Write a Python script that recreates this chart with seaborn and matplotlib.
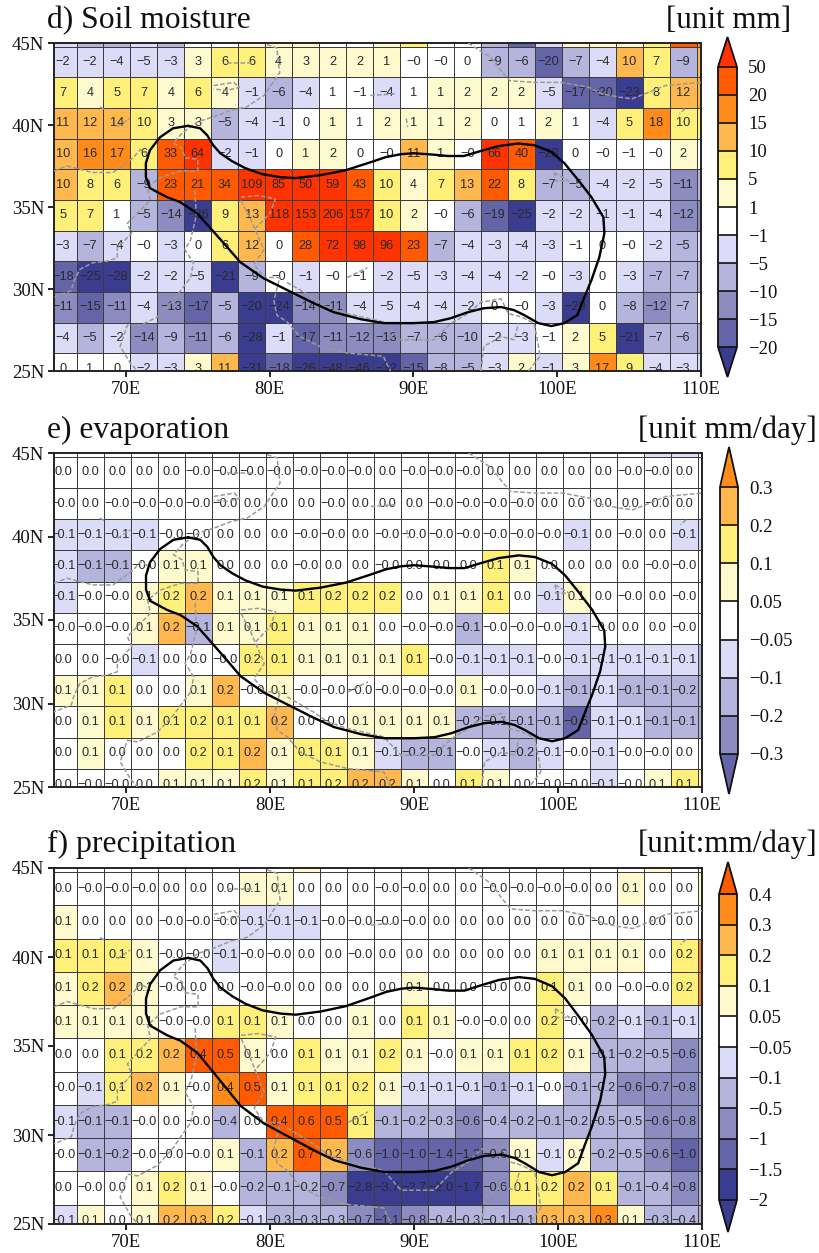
import numpy as np
import matplotlib
matplotlib.use("Agg")
import matplotlib.pyplot as plt
from matplotlib.cm import ScalarMappable
from matplotlib.colors import ListedColormap, BoundaryNorm
import seaborn as sns

# ---------- colours ----------
NAVY, P4, P3, P2, P1 = "#3A3C90", "#6464A8", "#8C8CC0", "#B4B4DC", "#DCDCF8"
WHITE, CREAM, YEL, LORG, ORG, DEEP, RED = "#FFFFFF", "#FFFACD", "#FFF07A", "#FFB84D", "#FF8C1A", "#FF5A00", "#FF3300"

# ---------- panel d: soil moisture ----------
d_levels = [-20, -15, -10, -5, -1, 1, 5, 10, 15, 20, 50]
d_colors = [NAVY, P4, P3, P2, P1, WHITE, CREAM, YEL, LORG, ORG, DEEP, RED]
d_values = [
    [-2, -2, -4, -4.6, -3, 3, 6, 6, 4, 3, 2, 2, 1.2, -0.3, -0.3, 0.3, -9, -6, -19.6, -7, -4, 10.3, 7, -9],
    [7, 4, 5.2, 7, 4, 6, 4, -1.2, -6, -4, 0.8, -0.8, -4, 0.8, 1.2, 2, 2, 2, -4.7, -17, -19.7, -23, 8, 12],
    [11, 12, 14, 9.8, 3, 3, -5.2, -4, -1.2, 0.3, 1.2, 0.8, 2, 1.2, 1.2, 2, 0.3, 0.8, 2, 0.8, -4, 5.2, 18, 9.8],
    [10.2, 16, 17, 6, 33, 64, -2, -1.2, 0.3, 1.2, 2, 0.3, -0.3, 11, 1.2, -0.3, 66, 40, -28, 0.3, -0.3, -0.8, -0.3, 2],
    [10.2, 8, 6, -9, 23, 21, 34, 109, 85, 50.3, 59, 43, 9.8, 4, 7, 13, 22, 8, -7, -5.2, -4, -2, -4.8, -11],
    [5.2, 7, 0.8, -5.3, -14, -36, 9, 13, 118, 153, 206, 157, 9.8, 2, -0.3, -6, -19, -25, -2, -2, -1.2, -1.2, -4, -12],
    [-3, -7, -4, -0.3, -3, 0.3, 6, 12, 0.3, 28, 72, 98, 96, 23, -7, -4, -3, -4, -3, -0.8, 0.3, -0.3, -2, -5.2],
    [-18, -25, -28, -2, -2, -4.8, -21, -9, -0.3, -1.2, -0.3, -0.8, -2, -4.8, -3, -4, -4, -2, -0.3, -3, 0.3, -3, -7, -7],
    [-11, -15.2, -11, -4, -13, -17, -5.2, -20.3, -24, -14, -11, -4, -4.8, -4, -4, -2, 0.3, -0.3, -3, -29, 0.3, -8, -12, -7],
    [-4, -5.2, -2, -14, -9, -11, -6, -28, -1.2, -17, -11, -12, -13, -7, -6, -9.8, -2, -3, -0.8, 2, 5.2, -21, -7, -6],
    [0.3, 0.8, 0.3, -2, -3, 3, 11, -31, -18, -26, -48, -46, -32, -15.3, -8, -5.2, -3, 2, -1.2, 3, 17, 9, -4, -3],
]
d_top = [-3, -7, -7, -3, -7, 0.3, 0.3, 2, 2, 2, 0.3, 0.3, 2, 7, 0.3, 0.3, -7, -17, -3, 2, 2, 2, 7, 25, 17]
d_right = [12, 12, 7, 0.3, -7, -11, -3, -7, 0.3, -7, -3]
d_ticklabels = ["\u221220", "\u221215", "\u221210", "\u22125", "\u22121", "1", "5", "10", "15", "20", "50"]

# ---------- panel e: evaporation ----------
e_levels = [-0.3, -0.2, -0.1, -0.05, 0.05, 0.1, 0.2, 0.3]
e_colors = [P4, P3, P2, P1, WHITE, CREAM, YEL, LORG, ORG]
e_values = [
    [.02, .02, .02, .02, .02, -.02, -.02, -.02, -.02, -.02, -.02, -.02, .02, -.02, -.02, -.02, .02, .02, .02, .02, .02, -.02, -.02, .02],
    [-.02, .02, -.02, -.02, -.02, -.02, -.02, .02, .02, .02, -.02, .02, .02, .02, -.02, -.02, -.02, -.02, .02, .02, .02, .02, -.02, .02],
    [-.07, -.07, -.07, -.07, -.02, -.02, .02, .02, .02, -.02, -.02, .02, -.02, -.02, -.02, -.02, -.02, -.02, -.02, -.07, .02, -.02, .02, -.07],
    [-.07, -.13, -.13, -.02, .08, .08, .02, .02, .02, -.02, .02, .02, -.02, .02, .02, .02, .12, .08, .02, .02, .02, .02, -.02, -.02],
    [-.07, -.02, -.02, .08, .18, .22, .08, .08, .08, .12, .16, .16, .16, .02, .08, .08, .12, .02, -.07, .08, .02, -.02, .02, -.02],
    [-.02, -.02, -.02, .08, .22, -.13, .08, .08, .12, .08, .08, .08, .02, -.02, -.02, -.12, -.02, -.02, -.02, -.07, -.02, .02, .02, -.02],
    [.02, .02, -.02, -.07, .02, .02, -.02, .16, .12, .08, .08, .08, .08, .12, -.02, -.07, -.07, -.07, -.02, -.07, -.07, -.07, -.07, -.07],
    [.08, .08, .12, .02, .02, .08, .22, -.02, .08, -.02, -.02, -.02, -.02, -.02, -.02, .08, -.02, -.02, -.07, -.12, -.07, -.12, -.12, -.16],
    [.02, .08, .12, .08, .12, .16, .12, .12, .22, .02, -.02, .08, .08, .08, .08, -.16, -.12, -.12, -.12, -.5, -.07, -.07, -.12, -.12],
    [.02, .08, .02, .02, .02, .16, .12, .22, .08, .12, .12, .08, -.07, -.16, -.12, -.02, -.07, -.16, -.07, -.02, -.07, -.02, -.02, .02],
    [.02, -.02, -.02, .02, .08, .08, .08, .16, .08, .12, .16, .22, .22, .08, .02, .12, .08, .02, -.02, -.02, -.07, -.02, .08, .12],
]
e_top = [.02] * 22 + [-.07, -.07, .02]
e_right = [.02, .02, -.07, .02, .02, .02, -.12, -.12, -.12, .02, .08]
e_ticklabels = ["\u22120.3", "\u22120.2", "\u22120.1", "\u22120.05", "0.05", "0.1", "0.2", "0.3"]

# ---------- panel f: precipitation ----------
f_levels = [-2, -1.5, -1, -0.5, -0.1, -0.05, 0.05, 0.1, 0.2, 0.3, 0.4]
f_colors = [NAVY, NAVY, P4, P3, P2, P1, WHITE, CREAM, YEL, LORG, ORG, DEEP]
f_values = [
    [.02, -.02, -.02, -.02, .02, .02, .02, .08, .08, .02, .02, .02, -.02, -.02, .02, .02, -.02, -.02, -.02, -.02, .02, .08, .02, .02],
    [.08, .02, .02, .02, -.02, -.02, -.02, -.07, -.07, -.07, -.02, -.02, -.02, -.02, .02, .02, .02, .02, .02, .02, -.02, .02, .02, .02],
    [.12, .12, .12, .08, -.02, -.02, -.07, -.02, -.02, .02, .02, -.02, .02, .02, .02, .02, .02, .02, .08, .08, .08, .08, .02, .16],
    [.08, .16, .22, .08, -.02, .02, .02, -.02, -.02, .02, .02, .02, .02, .08, .02, .02, -.02, .02, .12, .08, .02, -.02, -.02, .16],
    [.08, .08, .08, .08, -.02, -.02, .12, .12, .08, .02, .02, .08, .02, .12, .08, -.02, -.02, .02, .16, -.02, -.18, -.07, -.12, -.07],
    [.02, .02, .12, .16, .22, .42, .5, .08, .02, .12, .08, .08, .16, .08, -.02, .08, .08, .12, .16, .08, -.12, -.2, -.45, -.55],
    [-.02, -.07, .12, .22, .08, -.02, .38, .47, .08, .12, .12, .16, .08, -.07, -.07, -.07, -.12, -.07, -.02, -.12, -.2, -.6, -.7, -.8],
    [-.07, -.12, -.12, -.02, .02, -.02, -.4, .02, .42, .6, .5, .12, -.12, -.2, -.3, -.6, -.4, -.2, -.12, -.2, -.48, -.48, -.6, -.8],
    [-.02, -.12, -.2, -.02, -.02, -.02, .08, -.12, .22, .7, .22, -.6, -1.02, -1.02, -1.4, -1.2, -.6, .08, -.07, .08, -.2, -.48, -.6, -1.02],
    [.02, -.02, .02, .08, .16, .08, -.02, -.2, -.12, -.2, -.7, -2.8, -3.7, -2.7, -2.0, -1.7, -.6, .12, .16, .22, .12, -.12, -.4, -.8],
    [-.07, .08, .02, .08, .22, .27, .16, -.07, -.3, -.3, -.3, -.7, -1.1, -.8, -.4, -.3, -.12, -.12, .27, .27, .32, .08, -.3, -.4],
]
f_top = [.02] * 9 + [.08] + [.02] * 12 + [.08, .02, .02]
f_right = [.08, .02, .35, .35, -.07, -.2, -.2, -.2, -.6, -.2, -.2]
f_ticklabels = ["\u22122", "\u22121.5", "\u22121", "\u22120.5", "\u22120.1", "\u22120.05", "0.05", "0.1", "0.2", "0.3", "0.4"]

# ---------- shared geography ----------
lon_ticks = [70, 80, 90, 100, 110]
lat_ticks = [45, 40, 35, 30, 25]

contour_lon = [74.32, 75.16, 75.65, 76.07, 76.56, 77.39, 78.30, 79.49, 80.74, 81.79, 83.53, 85.28, 87.02, 88.07, 89.12,
               90.02, 91.42, 92.40, 93.51, 94.70, 95.89, 97.28, 98.40, 99.59, 100.50, 101.47, 102.38, 103.21, 103.28,
               102.93, 102.38, 101.89, 101.40, 100.50, 99.59, 98.68, 97.70, 97.00, 96.10, 94.91, 93.80, 92.60, 91.42,
               90.02, 89.12, 87.93, 86.33, 84.44, 83.05, 81.23, 79.56, 77.95, 77.05, 76.00, 74.95, 73.77, 72.86, 71.67,
               71.39, 71.39, 71.67, 72.37, 73.28, 74.32]
contour_lat = [39.95, 39.80, 39.38, 38.77, 38.28, 37.79, 37.37, 37.00, 36.82, 36.76, 36.94, 37.24, 37.73, 38.04, 38.22,
               38.28, 38.19, 38.11, 38.11, 38.42, 38.71, 38.87, 38.77, 38.36, 37.67, 36.63, 35.60, 34.38, 33.40,
               31.94, 30.54, 29.50, 28.41, 27.92, 27.74, 27.92, 28.41, 28.71, 28.90, 28.83, 28.59, 28.22, 27.98,
               27.92, 27.92, 27.92, 28.16, 28.59, 29.14, 29.93, 30.66, 31.64, 32.55, 33.59, 34.62, 35.30, 35.60, 36.15,
               36.82, 37.67, 38.46, 39.25, 39.80, 39.95]

border_north = [(79.8, 44.9), (80.5, 44.7), (80.6, 43.8), (80.7, 43.2), (80.3, 42.7), (79.6, 41.8), (78.4, 41.1), (77.3, 40.9),
                (76.1, 40.5), (75.0, 40.2), (73.9, 39.5), (73.3, 38.9), (73.9, 38.6), (74.1, 38.0), (75.0, 37.9), (75.0, 37.2),
                (73.8, 37.2), (72.4, 36.8), (71.5, 36.2), (71.7, 35.4), (71.0, 34.8), (70.1, 34.0), (70.4, 33.4), (69.4, 32.5),
                (69.4, 31.9), (68.7, 31.7), (67.7, 31.6), (66.8, 31.2), (66.4, 30.5), (66.2, 29.9), (65.0, 29.5)]
border_afghan = [(65.0, 37.2), (65.9, 37.5), (67.7, 37.1), (69.1, 37.1), (70.5, 38.0), (71.0, 38.5), (71.6, 38.2)]
border_pak = [(74.8, 36.0), (74.9, 34.5), (74.5, 33.0), (74.1, 32.4), (74.7, 31.6), (74.5, 30.7), (73.8, 29.9), (73.3, 29.3), (72.2, 28.3),
              (70.8, 27.7), (70.1, 27.8), (69.6, 26.5), (70.3, 25.5), (70.8, 25.0)]
border_tibet = [(78.0, 35.4), (78.7, 34.2), (79.1, 33.4), (79.6, 32.4), (78.9, 31.5), (79.6, 30.7), (80.7, 30.7), (80.3, 29.3),
                (80.5, 28.4), (81.2, 28.0), (82.1, 27.1), (83.5, 26.5), (85.4, 26.1), (87.9, 25.9), (88.4, 25.0)]
border_kash = [(78.0, 35.6), (79.2, 35.7), (80.4, 35.5), (80.0, 34.6), (78.9, 33.6)]
border_hima = [(81.2, 30.4), (83.0, 29.5), (84.0, 28.9), (85.4, 28.5), (87.9, 28.0), (89.1, 26.9), (91.4, 26.9), (92.6, 27.9),
               (93.8, 28.5), (94.7, 29.2), (96.1, 29.4), (96.6, 28.5), (97.5, 28.3), (98.4, 27.9), (98.7, 26.5), (98.8, 25.9), (98.0, 25.0)]
border_burma = [(94.7, 25.0), (94.9, 26.5), (96.1, 27.1), (97.0, 26.9), (97.3, 27.9)]
border_mong = [(93.8, 45.0), (95.4, 44.1), (96.1, 43.3), (96.7, 42.7), (98.4, 42.6), (100.3, 42.6), (102.2, 42.3), (103.1, 41.9),
               (104.3, 41.7), (105.2, 41.6), (106.1, 41.9), (107.5, 42.4), (110.0, 42.6)]
border_kyrg = [(76.1, 42.4), (77.5, 42.6), (77.9, 42.3), (77.0, 42.1), (76.1, 42.2)]
border_small = [[(77.0, 43.8), (78.9, 43.8)], [(68.2, 41.1), (68.6, 40.9)], [(69.4, 39.9), (70.3, 40.4)],
                [(99.8, 37.1), (100.8, 36.6), (99.9, 36.6), (99.8, 37.1)], [(108.9, 41.0), (108.5, 40.7)],
                [(85.4, 30.7), (86.8, 31.3)], [(87.0, 41.8), (88.7, 41.9)], [(89.5, 40.4), (89.6, 39.9)]]

# grid geometry of the model cells, in lon / lat
LON_EDGE0, DLON = 64.69, 1.875
ROW_AT_45, ROWS_PER_DEG = 0.88, 0.535


def lon2x(lon):
    return (np.asarray(lon) - LON_EDGE0) / DLON


def lat2y(lat):
    return ROW_AT_45 + (45 - np.asarray(lat)) * ROWS_PER_DEG


W, H = 820, 1253
sns.set_style("ticks")
plt.rcParams["font.family"] = ["Liberation Serif", "DejaVu Serif"]
fig = plt.figure(figsize=(W / 100, H / 100), dpi=100)


def frect(x0, y0, x1, y1):
    return [x0 / W, 1 - y1 / H, (x1 - x0) / W, (y1 - y0) / H]


def panel(rect, cbrect, extendfrac, values, top, right, levels, colors, ticklabels, fmt, title, unit, title_y, unit_x):
    ax = fig.add_axes(frect(*rect))
    inner = np.array(values, dtype=float)
    grid = np.vstack([top, np.column_stack([inner, right])])
    labels = [[""] * grid.shape[1]]
    for row in inner:
        labels.append([format(v, fmt).replace("-", "\u2212") for v in row] + [""])
    cmap = ListedColormap(colors)
    norm = BoundaryNorm(levels, ncolors=len(colors), extend="both")
    sns.heatmap(grid, ax=ax, cmap=cmap, norm=norm, cbar=False, annot=np.array(labels), fmt="",
                annot_kws=dict(fontsize=9.2, family="Liberation Sans", color="#2a2a2a"),
                linewidths=0.7, linecolor="#3c3c3c", xticklabels=False, yticklabels=False)
    for t in ax.texts:
        t.set_clip_on(True)

    # borders & reference contour, drawn in map coordinates
    segs = [border_north, border_afghan, border_pak, border_tibet, border_kash, border_hima, border_burma,
            border_mong, border_kyrg] + border_small
    for seg in segs:
        lo, la = zip(*seg)
        ax.plot(lon2x(lo), lat2y(la), color="#9a9a9a", lw=1.1, ls=(0, (3, 1.4)), zorder=4)
    ax.plot(lon2x(contour_lon), lat2y(contour_lat), color="black", lw=1.7, zorder=5, solid_joinstyle="round")

    ax.set_xlim(lon2x(65), lon2x(110))
    ax.set_ylim(lat2y(25), lat2y(45))
    ax.set_xticks(lon2x(lon_ticks))
    ax.set_xticklabels([f"{v}E" for v in lon_ticks], fontsize=13.5)
    ax.set_yticks(lat2y(lat_ticks))
    ax.set_yticklabels([f"{v}N" for v in lat_ticks], fontsize=13.5)
    ax.tick_params(length=4, width=1.2, pad=3, color="black", labelcolor="#111111", bottom=True, left=True)
    for s in ax.spines.values():
        s.set_visible(True)
        s.set_linewidth(1.4)
        s.set_color("#222222")

    cax = fig.add_axes(frect(*cbrect))
    cb = fig.colorbar(ScalarMappable(norm=norm, cmap=cmap), cax=cax, extend="both", extendfrac=extendfrac,
                      spacing="uniform", drawedges=True, ticks=levels)
    cb.set_ticklabels(ticklabels)
    cb.ax.tick_params(length=0, pad=8, labelsize=13.5, labelcolor="#111111")
    cb.outline.set_linewidth(1.3)
    cb.outline.set_edgecolor("#111111")
    cb.dividers.set_linewidth(1.2)
    cb.dividers.set_color("#111111")

    fig.text(47 / W, 1 - title_y / H, title, fontsize=22.8, ha="left", va="baseline", color="#111111")
    fig.text(unit_x / W, 1 - title_y / H, unit, fontsize=22.4, ha="right", va="baseline", color="#111111")


panel((54, 43, 701, 371), (718, 37, 737, 377), 0.107, d_values, d_top, d_right, d_levels, d_colors, d_ticklabels,
      ".0f", "d) Soil moisture", "[unit mm]", 28, 791)
panel((54, 453, 702, 787), (720, 447, 738, 794), 0.15, e_values, e_top, e_right, e_levels, e_colors, e_ticklabels,
      ".1f", "e) evaporation", "[unit mm/day]", 438, 817)
panel((54, 868, 702, 1224), (719, 862, 737, 1232), 0.105, f_values, f_top, f_right, f_levels, f_colors, f_ticklabels,
      ".1f", "f) precipitation", "[unit:mm/day]", 852, 817)

fig.savefig("out.png", dpi=100)
